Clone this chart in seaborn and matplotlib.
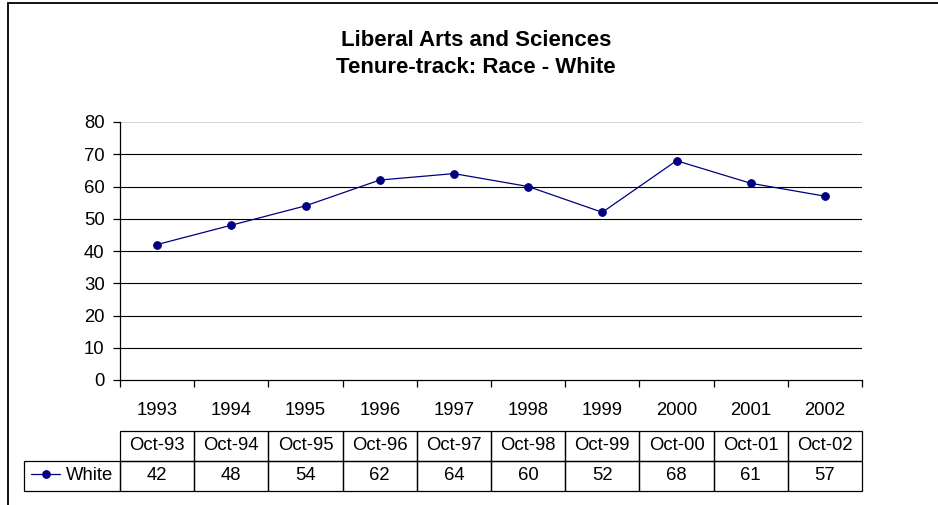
# Liberal Arts and Sciences - tenure-track, race: White
import numpy as np
import pandas as pd
import matplotlib.pyplot as plt
import seaborn as sns
from matplotlib.patches import Rectangle

years = ['1993', '1994', '1995', '1996', '1997', '1998', '1999', '2000', '2001', '2002']
dates = ['Oct-93', 'Oct-94', 'Oct-95', 'Oct-96', 'Oct-97', 'Oct-98', 'Oct-99', 'Oct-00', 'Oct-01', 'Oct-02']
white = [42, 48, 54, 62, 64, 60, 52, 68, 61, 57]

sns.set_theme(style='white')
plt.rcParams['font.family'] = ['Liberation Sans', 'DejaVu Sans']
plt.rcParams['text.color'] = 'black'
plt.rcParams['xtick.color'] = 'black'
plt.rcParams['ytick.color'] = 'black'
plt.rcParams['axes.labelcolor'] = 'black'

W, H = 938, 505
fig = plt.figure(figsize=(W / 100, H / 100), dpi=100)
fig.patch.set_facecolor('white')

# plot area in pixels
left, right, top, bottom = 120, 862, 122, 380
ax = fig.add_axes([left / W, 1 - bottom / H, (right - left) / W, (bottom - top) / H])

df = pd.DataFrame({'pos': np.arange(len(white)), 'White': white})
sns.lineplot(data=df, x='pos', y='White', ax=ax, color='#000080', linewidth=0.9,
             marker='o', markersize=5.5, markeredgecolor='#000080', label='White')

ax.set_xlim(-0.5, len(white) - 0.5)
ax.set_ylim(0, 80)
ax.set_yticks(range(0, 81, 10))
ax.set_xlabel('')
ax.set_ylabel('')

# gridlines
for y in range(10, 80, 10):
    ax.axhline(y, color='black', lw=0.8, zorder=0)
ax.axhline(80, color='#d0d0d0', lw=1.2, zorder=0)

for s in ['top', 'right']:
    ax.spines[s].set_visible(False)
for s in ['left', 'bottom']:
    ax.spines[s].set_color('black')
    ax.spines[s].set_linewidth(0.9)

# category boundaries carry the ticks, years sit in between
ax.set_xticks(np.arange(-0.5, len(white), 1))
ax.set_xticklabels([])
ax.set_xticks(np.arange(len(white)), minor=True)
ax.set_xticklabels(years, minor=True, fontsize=13.3)
ax.tick_params(axis='x', which='major', direction='out', length=5, width=0.9, color='black', bottom=True)
ax.tick_params(axis='x', which='minor', length=0, pad=15.5)
ax.tick_params(axis='y', direction='out', length=5, width=0.9, color='black', left=True,
               labelsize=13.3, pad=6)

# data table, first column holds the legend key
ph = bottom - top
y_top = (bottom - 431) / ph
y_bot = (bottom - 491) / ph
col_w = 1 / len(white)
lab_w = (left - 24) / (right - left)
tbl = ax.table(cellText=[[''] + [str(v) for v in white]], colLabels=[''] + dates,
               colWidths=[lab_w] + [col_w] * len(white), cellLoc='center',
               bbox=[-lab_w, y_bot, 1 + lab_w, y_top - y_bot])
tbl.auto_set_font_size(False)
tbl.set_fontsize(13.3)
for (r, c), cell in tbl.get_celld().items():
    cell.set_edgecolor('black')
    cell.set_linewidth(0.9)
    cell.set_facecolor('none')
    cell.get_text().set_color('black')
tbl[0, 0].visible_edges = ''

# legend key inside the row label cell
ax.legend(loc='center', bbox_to_anchor=(-lab_w / 2, y_bot + (y_top - y_bot) / 4),
          frameon=False, fontsize=13.3, handlelength=1.6, handletextpad=0.3,
          borderpad=0, borderaxespad=0, labelcolor='black')

fig.text(476 / W, 1 - 54 / H, 'Liberal Arts and Sciences\nTenure-track: Race - White',
         ha='center', va='center', fontsize=16, fontweight='bold', linespacing=1.32,
         color='black')

# chart frame (only left and top edges fall inside the picture)
fig.add_artist(Rectangle((7.5 / W, -0.1), 1.2, 1.1 - 2.5 / H, transform=fig.transFigure,
                         fill=False, edgecolor='black', lw=1.3, clip_on=False))

fig.savefig('out.png', dpi=100, facecolor='white')
